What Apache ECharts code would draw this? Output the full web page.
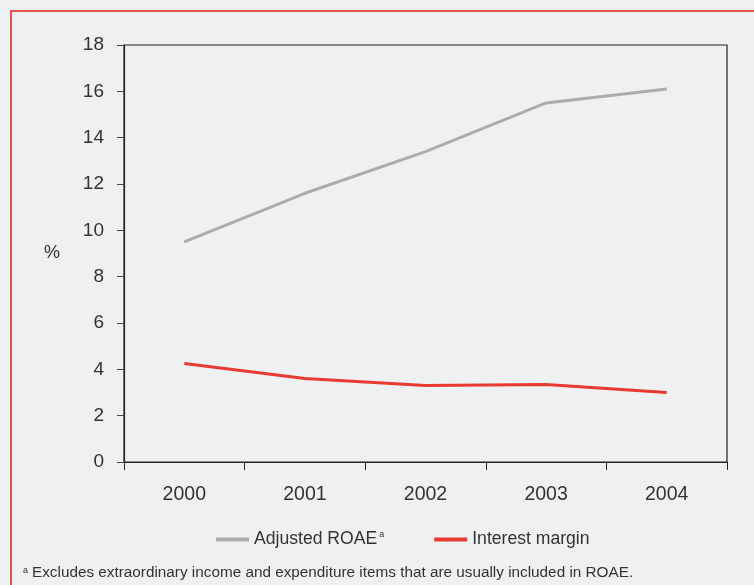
<!DOCTYPE html>
<html>
<head>
<meta charset="utf-8">
<script src="https://cdn.jsdelivr.net/npm/echarts@6/dist/echarts.min.js"></script>
<style>
  html, body { margin: 0; padding: 0; background: #eff0f2; }
  #chart { width: 754px; height: 585px; }
</style>
</head>
<body>
<div id="chart"></div>
<script>
// Years on the category axis
const years = ['2000', '2001', '2002', '2003', '2004'];
// Adjusted return on average equity, %
const adjustedRoae = [9.5, 11.6, 13.4, 15.5, 16.1];
// Interest margin, %
const interestMargin = [4.25, 3.6, 3.3, 3.35, 3.0];
// Value axis ticks
const yMin = 0, yMax = 18, yStep = 2;

const FONT = '"Liberation Sans", Arial, sans-serif';

const chart = echarts.init(document.getElementById('chart'), null, { renderer: 'canvas' });

chart.setOption({
  backgroundColor: '#eff0f2',
  animation: false,
  graphic: [
    {
      type: 'rect',
      shape: { x: 11, y: 11, width: 800, height: 700 },
      style: { fill: 'none', stroke: '#e6554d', lineWidth: 2 },
      silent: true
    },
    {
      type: 'text',
      left: 23, top: 566,
      style: { text: 'a', font: '9px ' + FONT, fill: '#333' }
    },
    {
      type: 'text',
      left: 32, top: 565,
      style: {
        text: 'Excludes extraordinary income and expenditure items that are usually included in ROAE.',
        font: '15.3px ' + FONT, fill: '#333'
      }
    }
  ],
  grid: {
    left: 124, right: 27, top: 45, bottom: 123,
    show: true, borderColor: '#222', borderWidth: 1.2, backgroundColor: 'transparent'
  },
  legend: {
    top: 525, left: 211, itemGap: 50,
    itemWidth: 33, itemHeight: 4, icon: 'rect',
    textStyle: {
      fontFamily: FONT, fontSize: 17.6, color: '#333',
      rich: {
        t: { fontFamily: FONT, fontSize: 17.6, color: '#333' },
        sup: { fontFamily: FONT, fontSize: 9, color: '#333', verticalAlign: 'top', padding: [0, 0, 10, 2] }
      }
    },
    formatter: name => name === 'Adjusted ROAE' ? '{t|Adjusted ROAE}{sup|a}' : '{t|' + name + '}',
    data: ['Adjusted ROAE', 'Interest margin']
  },
  xAxis: {
    type: 'category',
    data: years,
    boundaryGap: true,
    axisLine: { lineStyle: { color: '#222', width: 1.2 } },
    axisTick: { show: true, length: 8, lineStyle: { color: '#222' } },
    axisLabel: { margin: 23, fontFamily: FONT, fontSize: 19.5, color: '#333' }
  },
  yAxis: {
    type: 'value',
    min: yMin, max: yMax, interval: yStep,
    name: '%',
    nameLocation: 'middle',
    nameRotate: 0,
    nameGap: 64,
    nameTextStyle: { fontFamily: FONT, fontSize: 18, color: '#333' },
    splitLine: { show: false },
    axisLine: { show: true, lineStyle: { color: '#222', width: 1.2 } },
    axisTick: { show: true, length: 7, lineStyle: { color: '#444' } },
    axisLabel: { margin: 20, fontFamily: FONT, fontSize: 19, color: '#333' }
  },
  series: [
    {
      name: 'Adjusted ROAE', type: 'line', data: adjustedRoae,
      symbol: 'none', color: '#acacac',
      lineStyle: { color: '#acacac', width: 3 }
    },
    {
      name: 'Interest margin', type: 'line', data: interestMargin,
      symbol: 'none', color: '#e83a30',
      lineStyle: { color: '#e83a30', width: 3 }
    }
  ]
});
</script>
</body>
</html>
